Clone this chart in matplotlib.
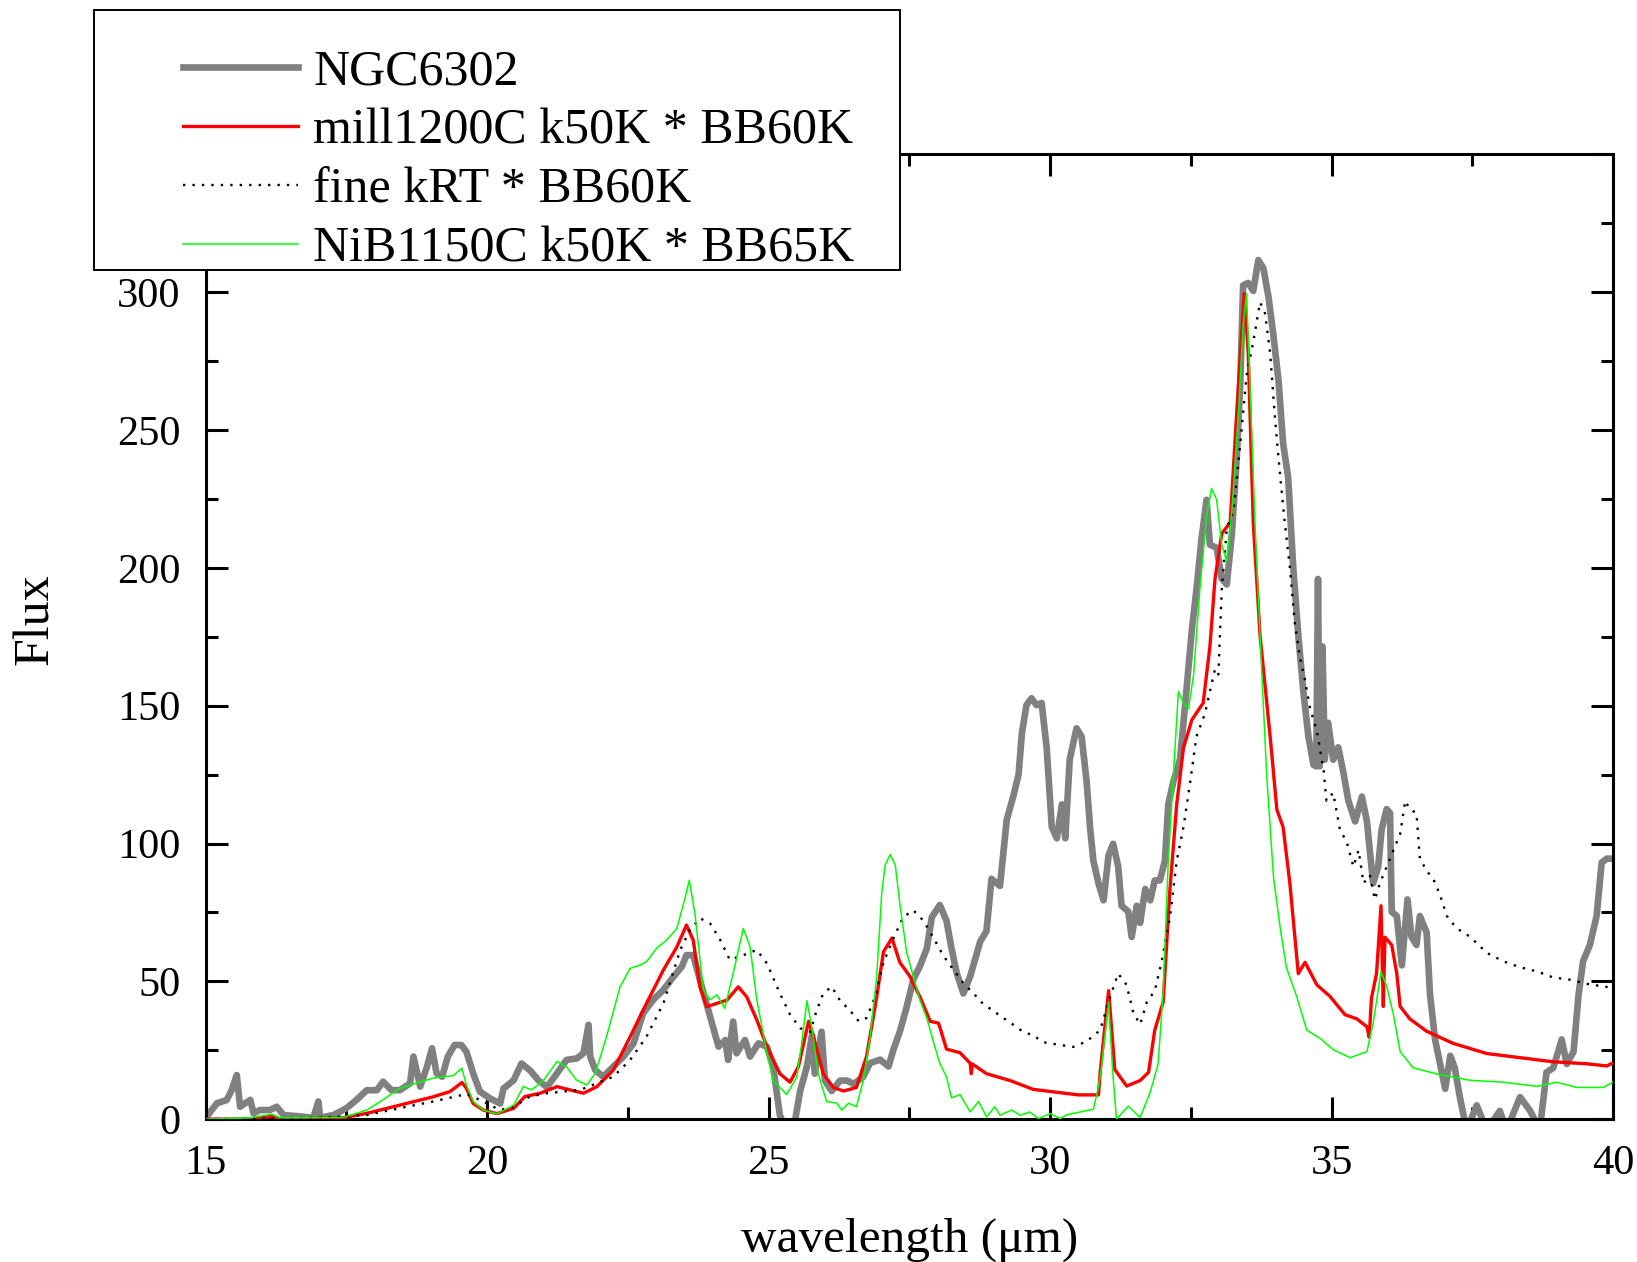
import matplotlib
matplotlib.use("Agg")
import matplotlib.pyplot as plt
from matplotlib.patches import Rectangle
from matplotlib.ticker import MultipleLocator

plt.rcParams['font.family'] = ['Liberation Serif', 'DejaVu Serif']

# ---------------- data ----------------
ngc_x = [15.0, 15.2, 15.37, 15.46, 15.55, 15.61, 15.79, 15.85, 15.96, 16.14, 16.26, 16.38, 16.67, 16.91,
         17.0, 17.03, 17.27, 17.5, 17.68, 17.86, 18.04, 18.15, 18.3, 18.45, 18.63, 18.69, 18.81, 18.93,
         19.02, 19.1, 19.2, 19.3, 19.42, 19.54, 19.63, 19.75, 19.87, 20.05, 20.23, 20.29, 20.47, 20.61,
         20.76, 20.91, 21.06, 21.24, 21.41, 21.59, 21.71, 21.8, 21.83, 21.92, 22.06, 22.24, 22.42, 22.6,
         22.77, 22.95, 23.13, 23.31, 23.46, 23.54, 23.66, 23.78, 23.96, 24.11, 24.23, 24.28, 24.37, 24.43,
         24.58, 24.67, 24.82, 24.97, 25.08, 25.2, 25.32, 25.44, 25.56, 25.68, 25.77, 25.82, 25.94, 26.0,
         26.12, 26.27, 26.39, 26.51, 26.68, 26.8, 26.98, 27.13, 27.22, 27.33, 27.45, 27.57, 27.69, 27.81,
         27.9, 28.04, 28.16, 28.25, 28.34, 28.46, 28.58, 28.67, 28.76, 28.87, 28.96, 29.11, 29.23, 29.35,
         29.44, 29.5, 29.58, 29.67, 29.76, 29.85, 29.94, 30.03, 30.12, 30.21, 30.27, 30.35, 30.47, 30.56,
         30.65, 30.71, 30.77, 30.86, 30.95, 31.04, 31.12, 31.21, 31.27, 31.39, 31.45, 31.54, 31.6, 31.69,
         31.78, 31.86, 31.95, 32.04, 32.1, 32.19, 32.31, 32.43, 32.52, 32.6, 32.69, 32.78, 32.84, 32.96,
         33.05, 33.14, 33.23, 33.32, 33.38, 33.43, 33.52, 33.61, 33.7, 33.79, 33.88, 33.97, 34.06, 34.14,
         34.23, 34.32, 34.41, 34.5, 34.59, 34.68, 34.73, 34.76, 34.79, 34.84, 34.88, 34.94, 35.03, 35.12,
         35.21, 35.3, 35.42, 35.54, 35.63, 35.68, 35.74, 35.83, 35.89, 35.98, 36.04, 36.07, 36.16, 36.25,
         36.35, 36.42, 36.51, 36.57, 36.69, 36.75, 36.84, 36.96, 37.02, 37.11, 37.19, 37.28, 37.4, 37.58,
         37.76, 37.99, 38.11, 38.35, 38.53, 38.7, 38.82, 38.94, 39.09, 39.18, 39.3, 39.39, 39.47, 39.59,
         39.71, 39.8, 39.89, 40.0]
ngc_y = [0.5, 5.8, 6.9, 10.5, 16.0, 4.5, 7.0, 2.1, 3.3, 3.3, 4.5, 1.5, 1.0, 0.5,
         6.4, 0.5, 1.5, 4.0, 7.0, 10.5, 10.5, 13.6, 10.5, 10.5, 13.0, 22.7, 11.8, 19.0,
         25.7, 16.6, 15.4, 22.7, 26.9, 26.9, 24.5, 16.6, 10.0, 7.5, 5.7, 11.1, 14.1, 20.2,
         17.7, 14.1, 11.6, 16.6, 21.5, 22.0, 23.9, 34.2, 22.7, 17.8, 15.4, 19.0, 22.7, 27.5,
         38.4, 43.3, 46.9, 51.7, 55.4, 59.5, 59.5, 50.5, 37.2, 26.3, 28.7, 21.5, 35.4, 23.9,
         28.7, 22.7, 27.5, 26.3, 19.0, 1.4, -4.0, -4.0, 10.2, 19.1, 30.4, 16.5, 31.7, 14.0,
         10.2, 14.0, 14.0, 12.8, 15.3, 20.3, 21.6, 19.1, 25.4, 31.7, 40.5, 50.6, 55.6, 61.9,
         73.3, 77.7, 72.0, 61.9, 53.1, 45.6, 51.8, 58.1, 64.5, 68.2, 87.2, 84.6, 108.6, 117.4,
         125.0, 140.1, 150.2, 152.7, 150.2, 151.0, 134.7, 106.0, 101.9, 114.2, 101.9, 130.6, 141.8, 138.8,
         122.4, 106.0, 93.7, 85.6, 79.4, 95.8, 99.9, 91.7, 77.4, 75.3, 66.1, 77.4, 71.2, 83.5,
         79.4, 86.6, 86.6, 93.7, 114.2, 122.4, 130.6, 157.2, 177.7, 192.0, 210.4, 224.7, 208.4, 207.3,
         196.1, 194.0, 212.4, 241.1, 267.7, 302.5, 303.4, 300.5, 311.7, 308.7, 298.4, 284.1, 267.7, 245.2,
         232.9, 200.2, 175.6, 155.1, 138.8, 128.5, 128.0, 196.0, 128.0, 171.5, 130.4, 143.8, 130.4, 134.9,
         125.9, 115.5, 108.0, 117.0, 108.0, 97.6, 85.6, 91.6, 105.0, 112.5, 111.0, 75.2, 73.7, 55.8,
         79.7, 66.2, 63.2, 73.7, 67.7, 45.3, 28.9, 17.0, 11.0, 23.0, 18.6, 8.0, -4.0, 5.0,
         -4.0, 3.0, -4.0, 8.0, 3.0, -4.0, 17.0, 18.6, 28.9, 20.0, 24.5, 45.3, 57.3, 63.2,
         73.7, 93.1, 94.5, 94.5]

mill_x = [15.0, 15.79, 16.17, 16.32, 17.44, 17.86, 18.45, 19.04, 19.34, 19.55, 19.63, 19.75, 19.93, 20.17,
          20.47, 20.67, 20.94, 21.24, 21.47, 21.71, 21.95, 22.24, 22.54, 22.83, 23.13, 23.37, 23.54, 23.66,
          23.78, 23.9, 24.08, 24.26, 24.46, 24.61, 24.79, 24.97, 25.2, 25.38, 25.53, 25.71, 25.79, 25.97,
          26.15, 26.33, 26.56, 26.74, 26.92, 27.04, 27.19, 27.33, 27.51, 27.69, 27.87, 28.02, 28.16, 28.4,
          28.58, 28.6, 28.62, 28.87, 29.29, 29.7, 30.18, 30.5, 30.86, 30.89, 31.04, 31.15, 31.36, 31.6,
          31.75, 31.86, 32.01, 32.13, 32.25, 32.37, 32.52, 32.72, 32.84, 32.93, 33.05, 33.2, 33.32, 33.45,
          33.52, 33.61, 33.73, 33.91, 34.03, 34.14, 34.26, 34.41, 34.53, 34.74, 34.97, 35.24, 35.45, 35.63,
          35.67, 35.71, 35.8, 35.88, 35.92, 35.95, 36.07, 36.16, 36.22, 36.39, 36.69, 37.16, 37.76, 38.35,
          38.94, 39.53, 39.89, 40.0]
mill_y = [0.0, 0.0, 1.0, 0.0, 0.5, 2.1, 5.1, 8.1, 10.0, 13.3, 11.2, 5.7, 3.3, 2.0,
          3.9, 8.2, 9.4, 11.8, 10.6, 9.4, 11.8, 17.8, 29.9, 42.0, 54.1, 62.5, 70.4, 65.0,
          48.0, 40.8, 42.0, 43.2, 48.0, 44.4, 36.0, 26.3, 16.5, 13.4, 19.1, 35.5, 30.4, 16.5,
          11.5, 10.2, 11.5, 22.8, 44.3, 60.7, 65.7, 56.9, 51.8, 44.3, 35.5, 34.8, 25.4, 24.1,
          20.3, 16.5, 20.0, 16.5, 14.0, 10.8, 9.6, 8.8, 8.8, 17.0, 46.6, 18.0, 12.0, 14.0,
          17.0, 32.3, 42.5, 83.5, 114.2, 134.7, 144.9, 151.0, 171.5, 196.0, 212.4, 216.5, 257.5, 299.5,
          278.0, 216.5, 175.6, 138.8, 112.2, 106.0, 85.6, 52.8, 56.9, 48.7, 44.6, 37.9, 36.4, 33.5,
          29.7, 43.9, 52.8, 77.4, 40.9, 66.0, 63.2, 52.8, 40.9, 36.4, 31.9, 27.5, 23.8, 22.3,
          20.8, 20.1, 19.3, 20.4]

fine_x = [15.0, 17.0, 17.44, 17.86, 18.45, 19.04, 19.63, 19.87, 20.11, 20.23, 20.47, 20.76, 21.06, 21.35,
          21.65, 21.95, 22.24, 22.54, 22.83, 23.13, 23.43, 23.6, 23.78, 23.96, 24.14, 24.31, 24.55, 24.79,
          24.97, 25.2, 25.38, 25.56, 25.74, 25.85, 25.97, 26.12, 26.27, 26.45, 26.6, 26.74, 26.89, 27.04,
          27.22, 27.39, 27.57, 27.75, 27.93, 28.1, 28.28, 28.46, 28.64, 28.81, 28.99, 29.17, 29.35, 29.52,
          29.7, 29.88, 30.06, 30.41, 30.65, 30.89, 31.07, 31.21, 31.36, 31.48, 31.6, 31.72, 31.86, 31.98,
          32.13, 32.25, 32.37, 32.49, 32.6, 32.75, 32.84, 32.93, 32.99, 33.05, 33.14, 33.26, 33.38, 33.49,
          33.61, 33.73, 33.82, 33.91, 34.0, 34.09, 34.17, 34.26, 34.35, 34.44, 34.53, 34.62, 34.74, 34.86,
          34.91, 35.03, 35.15, 35.27, 35.39, 35.48, 35.57, 35.68, 35.77, 35.86, 35.98, 36.1, 36.22, 36.31,
          36.39, 36.51, 36.57, 36.69, 36.81, 36.93, 37.05, 37.22, 37.46, 37.76, 38.05, 38.35, 38.65, 38.94,
          39.24, 39.53, 40.0]
fine_y = [0.0, 0.5, 1.0, 1.5, 4.0, 6.4, 9.1, 7.0, 4.5, 3.3, 4.5, 8.2, 9.4, 10.0,
          10.6, 13.0, 15.4, 21.5, 29.9, 42.0, 61.4, 68.6, 72.9, 71.0, 65.0, 57.8, 59.5, 61.4,
          56.5, 45.6, 38.0, 33.0, 31.7, 39.3, 45.6, 48.1, 43.0, 39.3, 35.5, 36.7, 44.3, 56.9,
          65.7, 73.3, 75.8, 72.0, 65.7, 59.4, 54.3, 49.3, 45.6, 41.8, 39.3, 36.7, 34.2, 31.7,
          30.4, 27.9, 27.3, 26.2, 28.2, 32.3, 44.6, 52.8, 48.7, 38.5, 34.4, 42.5, 46.6, 56.9,
          73.2, 93.7, 106.0, 122.4, 138.8, 147.0, 155.1, 163.3, 161.3, 192.0, 214.4, 220.7, 245.2, 269.7,
          282.0, 296.4, 292.3, 277.9, 253.3, 232.9, 216.5, 200.2, 179.7, 167.4, 159.2, 149.0, 140.8, 126.5,
          115.5, 118.4, 105.0, 100.6, 91.6, 97.6, 85.6, 88.6, 79.7, 85.6, 91.6, 97.6, 103.5, 115.5,
          112.5, 111.0, 94.6, 90.1, 87.1, 81.2, 73.7, 69.3, 66.2, 60.3, 57.3, 55.1, 53.6, 51.4,
          50.6, 49.1, 47.6]

nib_x = [15.0, 15.79, 16.17, 16.32, 17.44, 17.86, 18.15, 18.45, 18.69, 19.04, 19.4, 19.55, 19.63, 19.75,
         19.93, 20.17, 20.47, 20.64, 20.79, 21.0, 21.24, 21.41, 21.59, 21.77, 21.92, 22.12, 22.36, 22.54,
         22.72, 22.83, 23.01, 23.19, 23.37, 23.52, 23.59, 23.69, 23.84, 23.96, 24.08, 24.22, 24.37, 24.55,
         24.67, 24.79, 24.97, 25.08, 25.32, 25.5, 25.59, 25.68, 25.77, 25.88, 26.03, 26.21, 26.3, 26.42,
         26.56, 26.68, 26.8, 26.92, 27.01, 27.07, 27.16, 27.25, 27.33, 27.45, 27.57, 27.69, 27.81, 27.93,
         28.04, 28.16, 28.25, 28.4, 28.58, 28.73, 28.87, 29.02, 29.11, 29.32, 29.47, 29.64, 29.79, 30.0,
         30.18, 30.3, 30.77, 30.86, 30.92, 31.04, 31.11, 31.18, 31.39, 31.6, 31.78, 31.92, 32.01, 32.1,
         32.19, 32.28, 32.37, 32.46, 32.55, 32.66, 32.78, 32.87, 32.96, 33.05, 33.14, 33.23, 33.35, 33.43,
         33.49, 33.55, 33.64, 33.73, 33.85, 33.97, 34.09, 34.2, 34.38, 34.56, 34.8, 35.03, 35.33, 35.63,
         35.74, 35.88, 35.98, 36.1, 36.22, 36.45, 36.87, 37.46, 38.05, 38.65, 39.0, 39.36, 39.83, 40.0]
nib_y = [0.0, 0.5, 1.8, 0.5, 0.6, 3.3, 7.0, 11.2, 12.7, 14.9, 15.8, 18.5, 12.4, 6.4,
         3.3, 1.9, 5.1, 11.8, 10.6, 14.1, 20.9, 19.0, 14.1, 12.4, 16.6, 29.9, 48.0, 54.7,
         55.9, 57.1, 62.0, 65.0, 69.2, 80.7, 86.7, 74.6, 46.9, 43.3, 45.1, 40.2, 52.9, 69.2,
         62.5, 43.3, 23.9, 14.0, 8.9, 15.3, 27.9, 43.0, 33.0, 16.5, 6.4, 5.8, 3.3, 5.8,
         4.5, 14.0, 29.2, 51.8, 82.2, 92.2, 96.0, 92.2, 78.3, 60.7, 51.8, 43.0, 36.7, 27.9,
         20.3, 15.3, 7.7, 8.9, 2.6, 6.4, 0.8, 4.5, 1.4, 3.3, 1.4, 2.6, 0.2, 2.0,
         0.2, 1.6, 3.6, 11.8, 20.0, 42.5, 18.0, 0.0, 4.7, 0.6, 9.8, 20.0, 46.6, 93.7,
         124.4, 155.1, 151.0, 148.9, 161.3, 192.0, 218.6, 228.8, 224.7, 208.4, 202.2, 220.7, 257.5, 288.2,
         299.5, 267.7, 216.5, 175.6, 124.4, 87.6, 69.2, 54.9, 44.6, 32.3, 29.3, 25.2, 22.3, 24.5,
         34.9, 53.5, 48.3, 37.9, 24.5, 18.6, 16.4, 14.1, 13.4, 11.9, 13.4, 11.5, 11.5, 13.4]

labels = ["NGC6302", "mill1200C k50K * BB60K", "fine kRT * BB60K", "NiB1150C k50K * BB65K"]
x_ticks = [15, 20, 25, 30, 35, 40]
y_ticks = [0, 50, 100, 150, 200, 250, 300, 350]

# ---------------- figure ----------------
fig = plt.figure(figsize=(16.37, 12.62), dpi=100)
ax = fig.add_axes([0.1257, 0.1132, 0.8596, 0.7644])

l1, = ax.plot(ngc_x, ngc_y, color='#808080', lw=4.8, solid_joinstyle='round', zorder=2)
l2, = ax.plot(mill_x, mill_y, color='#ff0000', lw=2.4, zorder=3)
l3, = ax.plot(fine_x, fine_y, color='black', lw=1.7, linestyle=(0, (1, 3)), zorder=3)
l4, = ax.plot(nib_x, nib_y, color='#00ff00', lw=1.1, zorder=4)

ax.set_xlim(15, 40)
ax.set_ylim(0, 350)
ax.set_xticks(x_ticks)
ax.set_yticks(y_ticks)
ax.xaxis.set_minor_locator(MultipleLocator(2.5))
ax.yaxis.set_minor_locator(MultipleLocator(25))
ax.tick_params(which='both', direction='in', top=True, right=True, width=2.2, labelsize=30.5, pad=18)
ax.tick_params(which='major', length=16)
ax.tick_params(which='minor', length=8.5)
for s in ax.spines.values():
    s.set_linewidth(2.2)

ax.set_xlabel("wavelength (μm)", fontsize=35.5, labelpad=25)
ax.set_ylabel("Flux", fontsize=36)
ax.yaxis.set_label_coords(-0.104, 0.518)

# legend box
rect = Rectangle((0.0574, 0.786), 0.4924, 0.2058, transform=fig.transFigure,
                 facecolor='white', edgecolor='black', lw=1.4, zorder=10)
fig.add_artist(rect)
leg = fig.legend([l1, l2, l3, l4], labels, loc='upper left', bbox_to_anchor=(0.1118, 0.961),
                 frameon=False, borderpad=0, borderaxespad=0, handlelength=2.3,
                 handletextpad=0.3, labelspacing=0.25, fontsize=36)
leg.set_zorder(11)

fig.savefig("out.png", dpi=100)
